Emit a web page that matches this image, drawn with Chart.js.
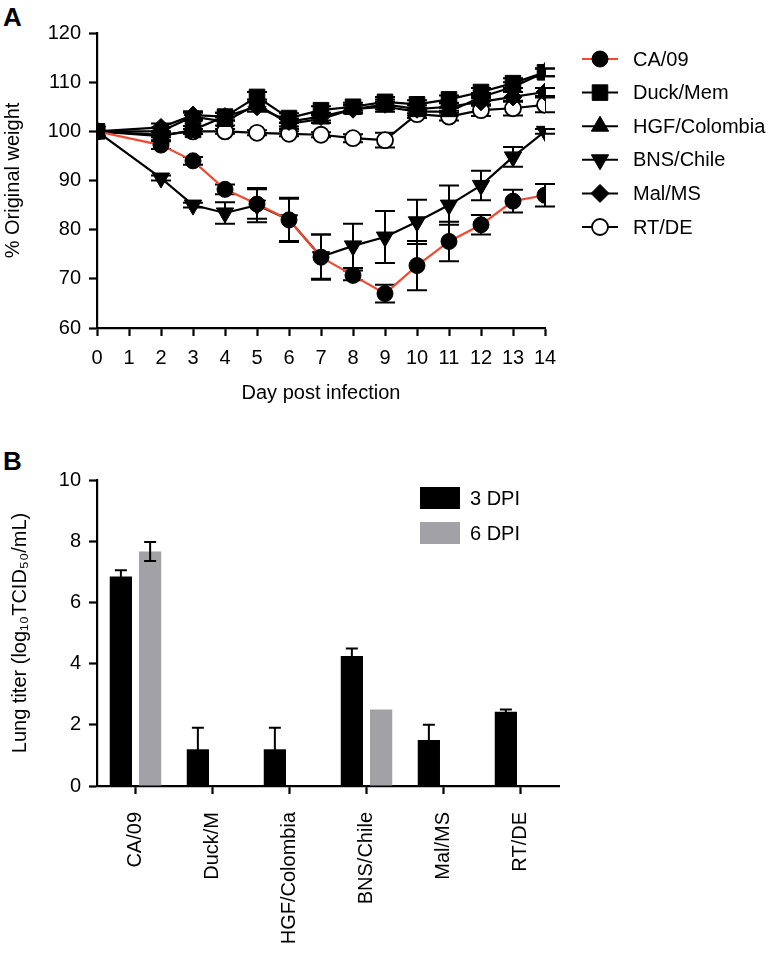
<!DOCTYPE html>
<html>
<head>
<meta charset="utf-8">
<script src="https://cdn.jsdelivr.net/npm/chart.js@4/dist/chart.umd.min.js"></script>
<style>
  body { margin: 0; background: #fff; width: 777px; height: 957px; position: relative; overflow: hidden; }
  .panel { position: absolute; left: 0; width: 777px; }
  .letter { position: absolute; font: bold 26px "Liberation Sans", Arial, sans-serif; color: #000; }
</style>
</head>
<body>
<div class="letter" style="left:3px; top:2px;">A</div>
<div class="letter" style="left:3px; top:446px;">B</div>
<div class="panel" style="top:0; height:420px;"><canvas id="weight" width="777" height="420"></canvas></div>
<div class="panel" style="top:420px; height:537px;"><canvas id="titer" width="777" height="537"></canvas></div>
<script>
// panel A: % original weight
const days = [0, 2, 3, 4, 5, 6, 7, 8, 9, 10, 11, 12, 13, 14];
const ca09 = [100, 97.2, 94, 88.2, 85.2, 82, 74.4, 70.7, 67, 72.7, 77.6, 81, 85.8, 87];
const ca09Err = [0, 0.8, 0.8, 1, 3, 4.3, 4.6, 1, 1.8, 5, 4, 2, 2.3, 2.3];
const duckMem = [100, 99, 100.3, 103, 107, 102.7, 104.3, 105, 106, 105.5, 106.5, 108, 109.8, 112];
const duckMemErr = [0, 0.8, 0.8, 0.8, 1, 1, 0.8, 0.8, 1, 0.8, 0.8, 0.8, 1, 0.8];
const hgfColombia = [100, 100, 103, 102, 105.5, 101.5, 102.5, 104.5, 105, 104, 104, 107, 109, 112];
const hgfColombiaErr = [0, 0.8, 0.8, 0.8, 1, 1, 0.8, 0.8, 1, 0.8, 0.8, 0.8, 1, 0.8];
const bnsChile = [100, 90.5, 85, 83.4, 85, 82, 74.5, 76.7, 78.5, 81.6, 85, 89, 94.8, 100];
const bnsChileErr = [0, 0.5, 0.5, 2.2, 3.5, 4.5, 4.5, 4.5, 5.3, 4.5, 4, 3, 2, 0.5];
const malMS = [100, 100.8, 103.3, 103, 105, 102, 103, 104.5, 105.5, 104.5, 105, 106, 107, 108];
const malMSErr = [0, 0.8, 0.8, 0.8, 1, 1, 0.8, 0.8, 1, 0.8, 0.8, 0.8, 1, 0.8];
const rtDE = [100, 99.3, 100, 100, 99.7, 99.5, 99.3, 98.6, 98.2, 103.5, 103, 104.3, 104.7, 105.4];
const rtDEErr = [0, 0.5, 0.5, 0.5, 0.5, 0.5, 0.5, 0.8, 1.5, 0.8, 0.8, 1.2, 1.5, 1.5];
const weightTicks = [60, 70, 80, 90, 100, 110, 120];

// panel B: lung titers
const strains = ["CA/09", "Duck/M", "HGF/Colombia", "BNS/Chile", "Mal/MS", "RT/DE"];
const dpi3 = [6.85, 1.2, 1.2, 4.25, 1.5, 2.43];
const dpi3Err = [0.2, 0.7, 0.7, 0.24, 0.5, 0.07];
const dpi6 = [7.66, null, null, 2.5, null, null];
const dpi6Err = [0.31, null, null, 0, null, null];

const fontFamily = '"Liberation Sans", Arial, sans-serif';
const red = "#ef4a32";

const toPoints = vals => days.map((d, i) => ({ x: d, y: vals[i] }));

const drawMarker = (ctx, ds, x, y) => {
  ctx.save();
  ctx.fillStyle = ds.pointBackgroundColor;
  ctx.strokeStyle = ds.pointBorderColor;
  ctx.lineWidth = ds.pointBorderWidth;
  Chart.helpers.drawPoint(ctx, { pointStyle: ds.pointStyle, radius: ds.pointRadius, rotation: ds.pointRotation || 0, borderWidth: ds.pointBorderWidth }, x, y);
  ctx.restore();
};

const errorBars = {
  id: "errorBars",
  afterDatasetsDraw(chart, args, opts) {
    const ctx = chart.ctx;
    const yScale = chart.scales.y;
    chart.data.datasets.forEach((ds, i) => {
      if (!ds.errors) return;
      const meta = chart.getDatasetMeta(i);
      meta.data.forEach((el, j) => {
        const v = ds.data[j] && typeof ds.data[j] === "object" ? ds.data[j].y : ds.data[j];
        const e = ds.errors[j];
        if (v == null || !e) return;
        const top = yScale.getPixelForValue(v + e);
        const bottom = yScale.getPixelForValue(v - e);
        ctx.save();
        ctx.strokeStyle = "#000";
        ctx.lineWidth = opts.width || 2;
        ctx.beginPath();
        ctx.moveTo(el.x, top);
        ctx.lineTo(el.x, bottom);
        ctx.moveTo(el.x - opts.cap, top);
        ctx.lineTo(el.x + opts.cap, top);
        ctx.moveTo(el.x - opts.cap, bottom);
        ctx.lineTo(el.x + opts.cap, bottom);
        ctx.stroke();
        ctx.restore();
      });
    });
  }
};

const weightLegend = {
  id: "weightLegend",
  afterDraw(chart) {
    const ctx = chart.ctx;
    chart.data.datasets.forEach((ds, i) => {
      const y = 59 + i * 33.6;
      ctx.save();
      ctx.strokeStyle = ds.borderColor;
      ctx.lineWidth = 2;
      ctx.beginPath();
      ctx.moveTo(582, y);
      ctx.lineTo(618, y);
      ctx.stroke();
      ctx.restore();
      drawMarker(ctx, ds, 600, y);
      ctx.save();
      ctx.fillStyle = "#000";
      ctx.font = "20px " + fontFamily;
      ctx.textBaseline = "middle";
      ctx.fillText(ds.label, 633, y + 1);
      ctx.restore();
    });
  }
};

const lineSet = (label, vals, errs, color, style, radius, extra) => Object.assign({
  label: label,
  data: toPoints(vals),
  errors: errs,
  borderColor: color,
  borderWidth: 2.2,
  tension: 0,
  pointStyle: style,
  pointRadius: radius,
  pointHoverRadius: radius,
  pointBackgroundColor: "#000",
  pointBorderColor: "#000",
  pointBorderWidth: 1
}, extra || {});

const axisBase = () => ({
  border: { color: "#000", width: 2.2 },
  grid: { display: true, drawOnChartArea: false, drawTicks: true, tickLength: 8, tickColor: "#000", tickWidth: 2.2 },
  ticks: { color: "#000", font: { size: 20, family: fontFamily }, padding: 8 }
});

const weightX = axisBase();
weightX.type = "linear";
weightX.min = 0;
weightX.max = 14;
weightX.ticks.stepSize = 1;
weightX.ticks.padding = 10;
weightX.title = { display: true, text: "Day post infection", color: "#000", font: { size: 20, family: fontFamily }, padding: { top: 0, bottom: 15 } };
weightX.afterFit = s => { s.height = 92; };

const weightY = axisBase();
weightY.min = 60;
weightY.max = 120;
weightY.afterBuildTicks = s => { s.ticks = weightTicks.map(v => ({ value: v })); };
weightY.title = { display: true, text: "% Original weight", color: "#000", font: { size: 20, family: fontFamily }, padding: { top: 1, bottom: 0 } };
weightY.afterFit = s => { s.width = 97; };

new Chart(document.getElementById("weight").getContext("2d"), {
  type: "line",
  data: {
    datasets: [
      lineSet("CA/09", ca09, ca09Err, red, "circle", 8),
      lineSet("Duck/Mem", duckMem, duckMemErr, "#000", "rect", 11),
      lineSet("HGF/Colombia", hgfColombia, hgfColombiaErr, "#000", "triangle", 10),
      lineSet("BNS/Chile", bnsChile, bnsChileErr, "#000", "triangle", 10, { pointRotation: 180 }),
      lineSet("Mal/MS", malMS, malMSErr, "#000", "rectRot", 9),
      lineSet("RT/DE", rtDE, rtDEErr, "#000", "circle", 8, { pointBackgroundColor: "#fff", pointBorderWidth: 1.8 })
    ]
  },
  options: {
    responsive: false,
    animation: false,
    layout: { padding: { left: 0, top: 33, right: 232, bottom: 0 } },
    plugins: { legend: { display: false }, tooltip: { enabled: false } },
    scales: { x: weightX, y: weightY }
  },
  plugins: [
    {
      id: "errorsUnder",
      beforeDatasetsDraw(chart) {
        errorBars.afterDatasetsDraw(chart, {}, { cap: 10, width: 2 });
      }
    },
    weightLegend
  ]
});

const titerLegend = {
  id: "titerLegend",
  afterDraw(chart) {
    const ctx = chart.ctx;
    chart.data.datasets.forEach((ds, i) => {
      const y = 78 + i * 35;
      ctx.save();
      ctx.fillStyle = ds.backgroundColor;
      ctx.fillRect(420, y - 11, 40, 22);
      ctx.fillStyle = "#000";
      ctx.font = "20px " + fontFamily;
      ctx.textBaseline = "middle";
      ctx.fillText(ds.label, 470, y + 1);
      ctx.restore();
    });
  }
};

const titerX = axisBase();
titerX.grid.offset = false;
titerX.ticks.maxRotation = 90;
titerX.ticks.minRotation = 90;
titerX.ticks.padding = 18;
titerX.afterFit = s => { s.height = 171; };

const titerY = axisBase();
titerY.min = 0;
titerY.max = 10;
titerY.ticks.stepSize = 2;
titerY.title = { display: true, text: "Lung titer (log\u2081\u2080TCID\u2085\u2080/mL)", color: "#000", font: { size: 20, family: fontFamily }, padding: { top: 8, bottom: 0 } };
titerY.afterFit = s => { s.width = 97; };

new Chart(document.getElementById("titer").getContext("2d"), {
  type: "bar",
  data: {
    labels: strains,
    datasets: [
      { label: "3 DPI", data: dpi3, errors: dpi3Err, backgroundColor: "#000" },
      { label: "6 DPI", data: dpi6, errors: dpi6Err, backgroundColor: "#a2a2a6" }
    ]
  },
  options: {
    responsive: false,
    animation: false,
    categoryPercentage: 0.76,
    barPercentage: 0.76,
    layout: { padding: { left: 0, top: 60, right: 218, bottom: 0 } },
    plugins: { legend: { display: false }, tooltip: { enabled: false }, errorBars: { cap: 6, width: 2 } },
    scales: { x: titerX, y: titerY }
  },
  plugins: [errorBars, titerLegend]
});
</script>
</body>
</html>
